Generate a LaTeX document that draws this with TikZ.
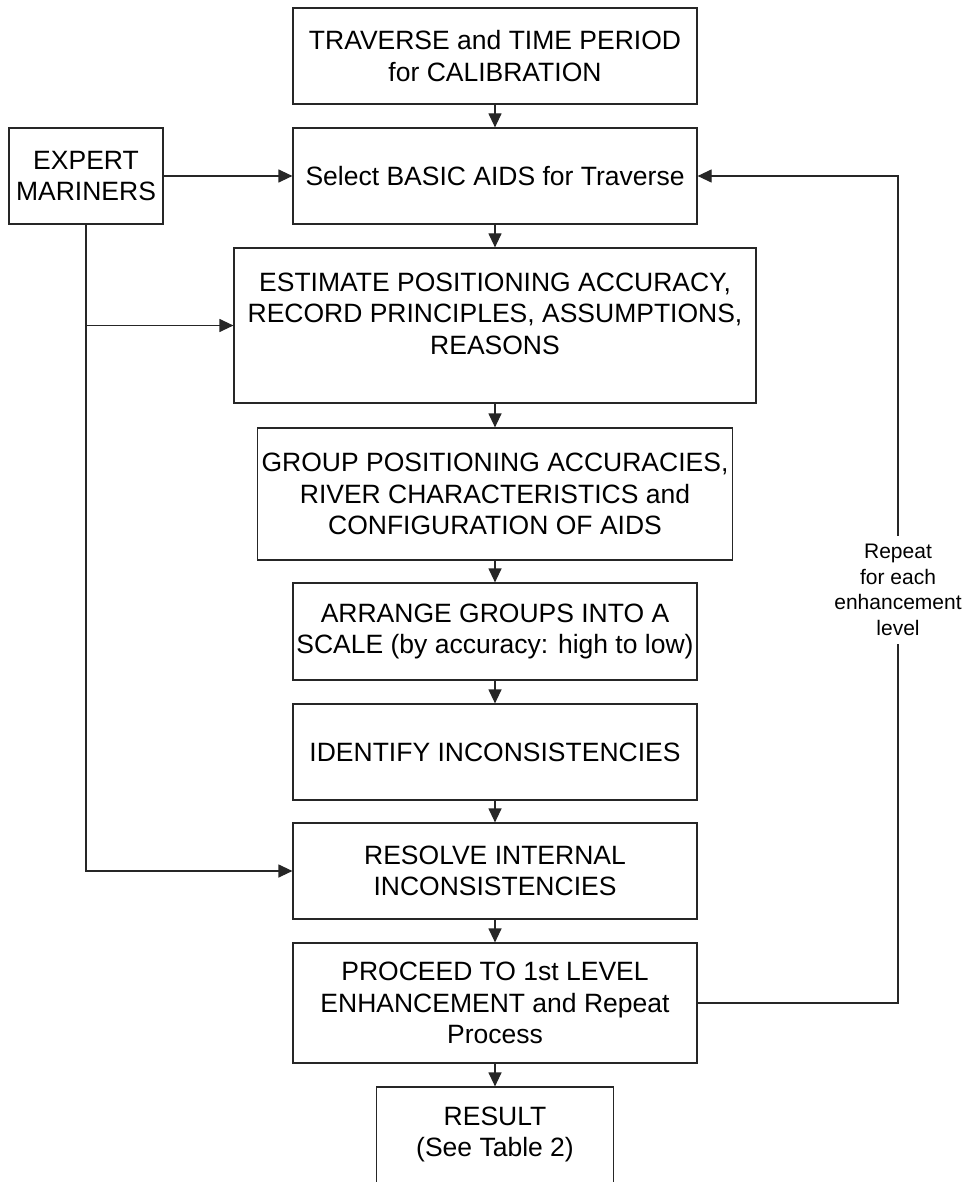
\documentclass[tikz,border=0pt]{standalone}
\usepackage{fontspec}
\setmainfont{Liberation Sans}
\usetikzlibrary{arrows.meta}
\begin{document}
\begin{tikzpicture}[x=1pt,y=-1pt,
  box/.style={draw=black!85, line width=1.2pt, align=center, inner sep=0pt,
              font=\fontsize{26.5}{31.5}\selectfont},
  flow/.style={draw=black!85, line width=1.2pt, -{Triangle[length=14pt,width=13pt]}},
  link/.style={draw=black!85, line width=1.2pt},
  note/.style={align=center, inner sep=0pt, font=\fontsize{21}{25.7}\selectfont}]
% page area
\clip (0,0) rectangle (970,1182);
\fill[white] (0,0) rectangle (970,1182);

% main column
\node[box, minimum width=404, minimum height=96] (trav) at (495,56)
  {TRAVERSE and TIME PERIOD\\for CALIBRATION};
\node[box, minimum width=404, minimum height=96] (sel) at (495,176)
  {Select BASIC AIDS for Traverse};
\node[box, minimum width=522, minimum height=155] (est) at (495,325.5)
  {ESTIMATE POSITIONING ACCURACY,\\RECORD PRINCIPLES, ASSUMPTIONS,\\REASONS\\[-7pt]\mbox{}};
\node[box, minimum width=475, minimum height=132] (grp) at (495,494)
  {GROUP POSITIONING ACCURACIES,\\RIVER CHARACTERISTICS and\\CONFIGURATION OF AIDS};
\node[box, minimum width=404, minimum height=97] (arr) at (495,631.5)
  {ARRANGE GROUPS INTO A\\SCALE (by accuracy: high to low)};
\node[box, minimum width=404, minimum height=96] (idn) at (495,752)
  {IDENTIFY INCONSISTENCIES};
\node[box, minimum width=404, minimum height=96] (res) at (495,871)
  {RESOLVE INTERNAL\\INCONSISTENCIES};
\node[box, minimum width=404, minimum height=120] (proc) at (495,1003)
  {PROCEED TO 1st LEVEL\\ENHANCEMENT and Repeat\\Process};
\node[box, minimum width=237, minimum height=113] (result) at (495,1143.5)
  {RESULT\\(See Table 2)\\[-8pt]\mbox{}};

% side inputs
\node[box, minimum width=154, minimum height=96] (exp) at (86,176)
  {EXPERT\\MARINERS};
\node[note, minimum height=108] (rep) at (898,590)
  {Repeat\\for each\\enhancement\\level};

% flow down the column
\draw[flow] (trav) -- (sel);
\draw[flow] (sel) -- (est);
\draw[flow] (est) -- (grp);
\draw[flow] (grp) -- (arr);
\draw[flow] (arr) -- (idn);
\draw[flow] (idn) -- (res);
\draw[flow] (res) -- (proc);
\draw[flow] (proc) -- (result);

% expert mariners feed three steps
\draw[flow] (exp) -- (sel);
\draw[flow] (exp.south |- est.west) -- (est.west);
\draw[flow] (exp.south) |- (res.west);

% loop back for each enhancement level
\draw[link] (proc.east) -| (rep.south);
\draw[flow] (rep.north) |- (sel.east);
\end{tikzpicture}
\end{document}
